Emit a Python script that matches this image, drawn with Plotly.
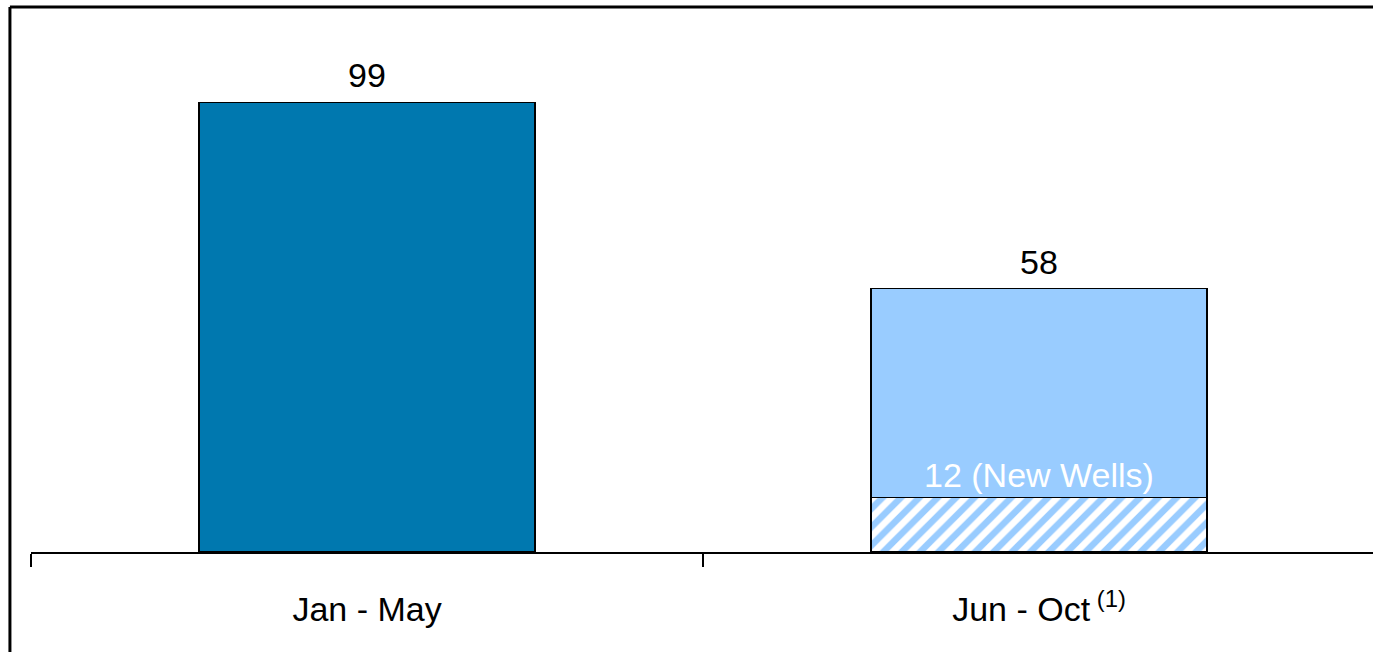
import plotly.graph_objects as go

# Period categories and production values
categories = ["Jan - May", "Jun - Oct"]
tick_labels = ["Jan - May", "Jun - Oct<sup> (1)</sup>"]
first_period_total = [99, None]
new_wells = [None, 12]
second_period_total = [None, 58]
existing_wells = [None, second_period_total[1] - new_wells[1]]

FONT = "Arial, Liberation Sans, sans-serif"
DARK_BLUE = "#0078AF"
LIGHT_BLUE = "#99CCFF"
TEXT_SIZE = 34

fig = go.Figure()

fig.add_trace(go.Bar(
    x=categories, y=first_period_total,
    marker=dict(color=DARK_BLUE, line=dict(color="black", width=1.5)),
    width=0.5, hoverinfo="skip",
))
fig.add_trace(go.Bar(
    x=categories, y=new_wells,
    marker=dict(
        color="white",
        line=dict(color="black", width=1.5),
        pattern=dict(shape="/", fgcolor=LIGHT_BLUE, bgcolor="white",
                     fgopacity=1, size=13, solidity=0.5),
    ),
    width=0.5, hoverinfo="skip",
))
fig.add_trace(go.Bar(
    x=categories, y=existing_wells,
    marker=dict(color=LIGHT_BLUE, line=dict(color="black", width=1.5)),
    width=0.5, hoverinfo="skip",
))

# Totals above each bar
totals = [first_period_total[0], second_period_total[1]]
for cat, val in zip(categories, totals):
    fig.add_annotation(
        x=cat, y=val, text=str(val), showarrow=False,
        yanchor="bottom", yshift=6,
        font=dict(family=FONT, size=TEXT_SIZE, color="black"),
    )

# New-wells label just above the hatched segment
fig.add_annotation(
    x=categories[1], y=new_wells[1], text=f"{new_wells[1]} (New Wells)",
    showarrow=False, yanchor="bottom", yshift=2,
    font=dict(family=FONT, size=TEXT_SIZE, color="white"),
)

# Frame lines along the left and top of the chart
fig.add_shape(
    type="line", xref="paper", yref="paper",
    x0=-0.0157, x1=-0.0157, y0=-0.3, y1=1.0,
    line=dict(color="black", width=3),
)
fig.add_shape(
    type="line", xref="paper", yref="paper",
    x0=-0.0157, x1=1.0, y0=1.0, y1=1.0,
    line=dict(color="black", width=3),
)

fig.update_layout(
    width=1373, height=652,
    margin=dict(l=31, r=0, t=7, b=100),
    barmode="stack",
    showlegend=False,
    plot_bgcolor="white", paper_bgcolor="white",
    font=dict(family=FONT, size=TEXT_SIZE, color="black"),
    xaxis=dict(
        type="category",
        range=[-0.5, 1.497],
        tickmode="array", tickvals=categories, ticktext=tick_labels,
        tickson="boundaries",
        ticks="outside", ticklen=13, tickwidth=2, tickcolor="black",
        ticklabelstandoff=26,
        showline=True, linecolor="black", linewidth=2,
        showgrid=False, zeroline=False,
        tickfont=dict(family=FONT, size=TEXT_SIZE, color="black"),
    ),
    yaxis=dict(
        range=[0, 120], visible=False, showgrid=False, zeroline=False,
        showline=False,
    ),
)

fig.write_html("out.html")
